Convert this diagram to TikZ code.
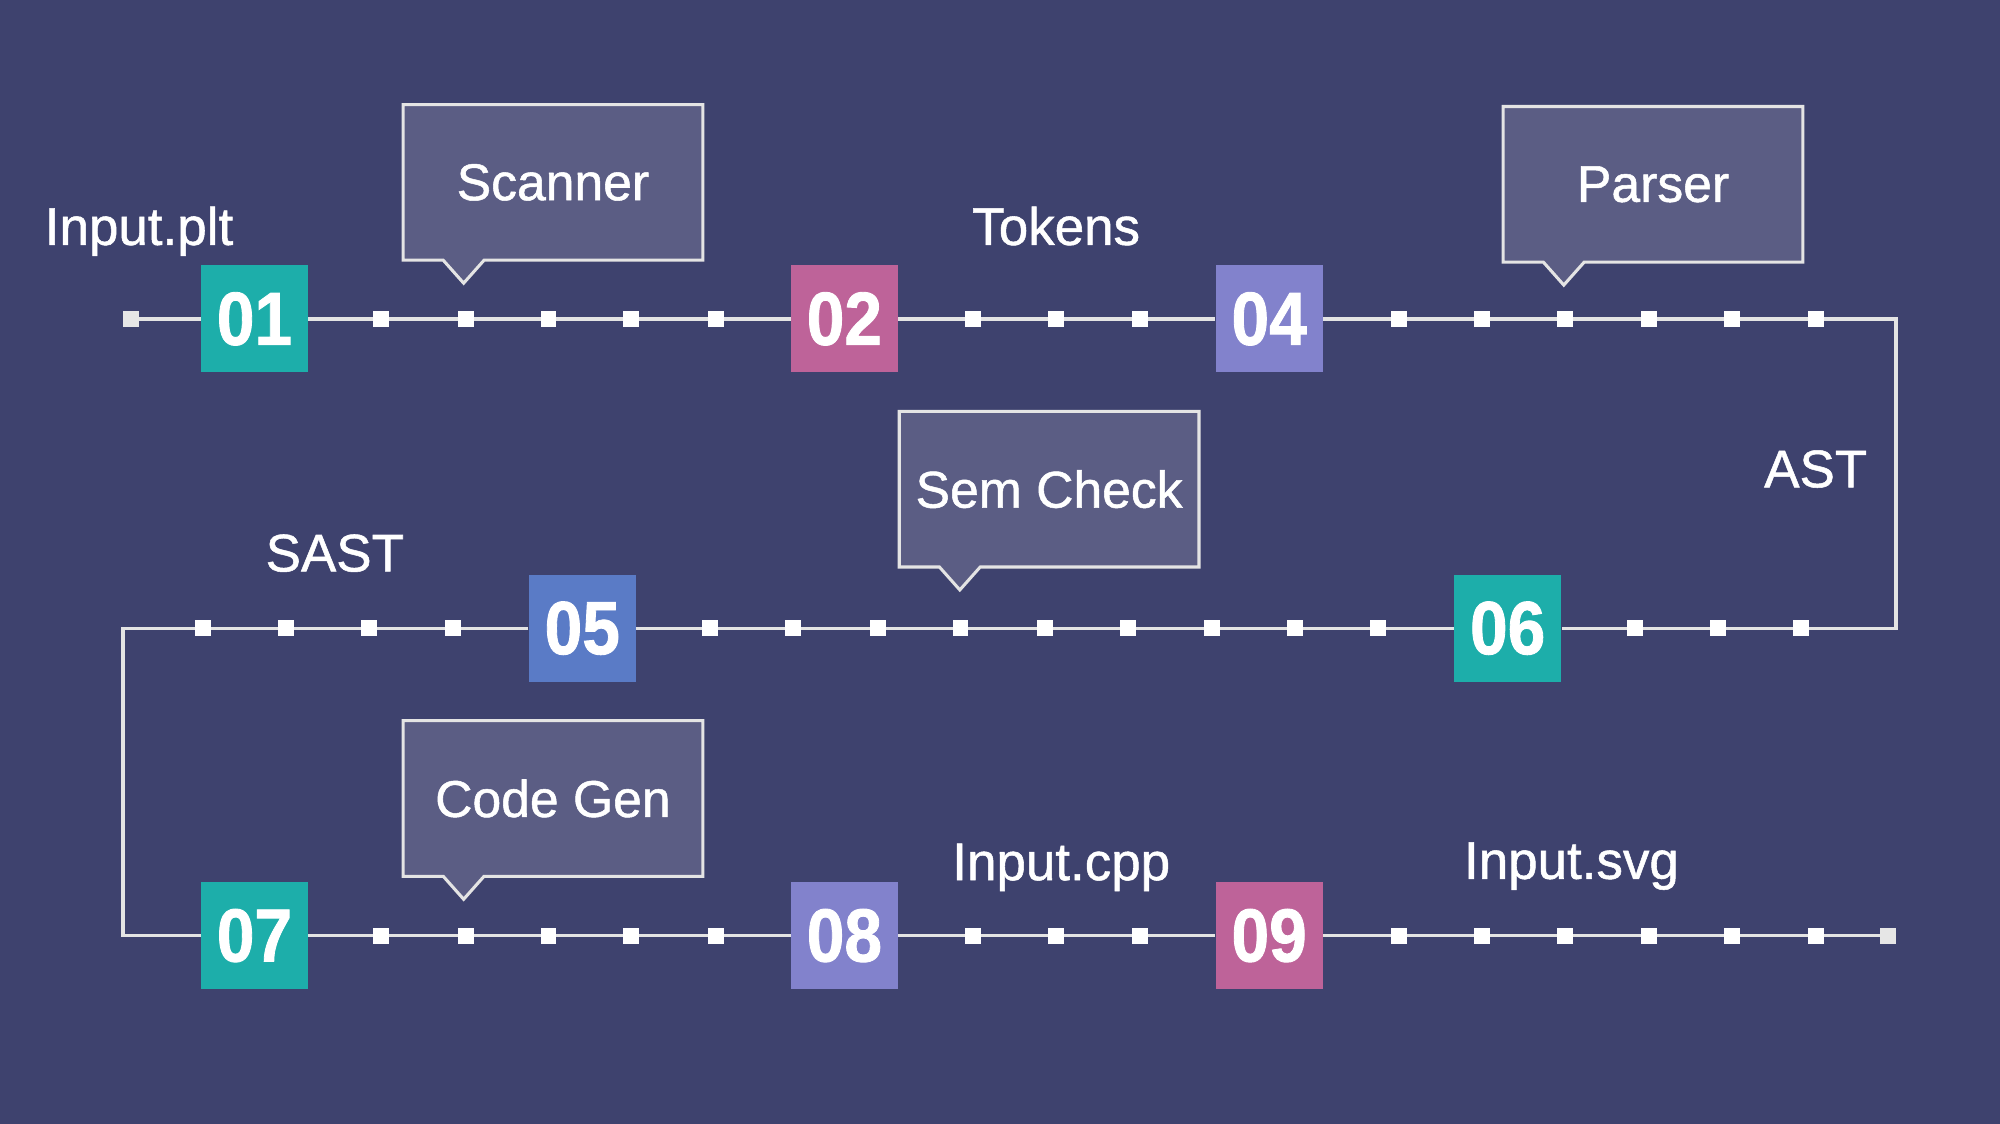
\documentclass[tikz,border=0pt]{standalone}
\usepackage{graphicx}
\usepackage{fontspec}
\setmainfont{Liberation Sans}
\newfontfamily\medfont{Liberation Sans}[FakeBold=1.0]
\newfontfamily\numfont{Liberation Sans Bold}[FakeBold=1.2]
\usetikzlibrary{backgrounds}
\definecolor{bg}{HTML}{3E426E}
\definecolor{cfill}{HTML}{5B5D84}
\definecolor{cedge}{HTML}{E4E4E4}
\definecolor{teal}{HTML}{1DAEAA}
\definecolor{magen}{HTML}{BE6399}
\definecolor{laven}{HTML}{8282CC}
\definecolor{bluebx}{HTML}{5A7BC6}
\definecolor{endsq}{HTML}{E6E6E6}
\newcommand\nb[1]{\scalebox{0.9}[1]{#1}}
\tikzset{
  numbox/.style={rectangle, minimum width=84pt, minimum height=84pt, inner sep=0pt,
    text=white, font=\numfont\fontsize{59}{60}\selectfont},
  dotsq/.style={rectangle, fill=white, minimum width=12.5pt, minimum height=12.5pt, inner sep=0pt},
  endsqr/.style={rectangle, fill=endsq, minimum width=12.5pt, minimum height=12.5pt, inner sep=0pt},
  wire/.style={draw=cedge, line width=2.6pt},
  cbox/.style={rectangle, fill=cfill, minimum width=235pt, minimum height=122pt, inner sep=0pt,
    text=white, font=\medfont\fontsize{40.5}{48}\selectfont},
  cline/.style={draw=cedge, line width=2.4pt, line join=miter},
  lbl/.style={anchor=base, text=white, font=\medfont\fontsize{41.5}{48}\selectfont, inner sep=0pt}
}
\newcommand\callout[4]{%
  \node[cbox] (#1) at (#2,#3) {#4};
  \begin{scope}[shift={(#2,#3)}]
    \fill[cfill] (-86,59) -- (-70,79) -- (-54,59) -- cycle;
    \draw[cline] (-117.5,61) -- (-117.5,-61) -- (117.5,-61) -- (117.5,61)
      -- (-54,61) -- (-70,79) -- (-86,61) -- cycle;
  \end{scope}}
\begin{document}
\begin{tikzpicture}[x=1pt,y=-1pt]
\useasboundingbox (0,0) rectangle (1568,881);
% row 1
\node[endsqr] (s0) at (103,250) {};
\node[numbox, fill=teal] (b01) at (199.5,250) {\nb{01}};
\node[numbox, fill=magen] (b02) at (662,250) {\nb{02}};
\node[numbox, fill=laven] (b04) at (995,250) {\nb{04}};
\coordinate (c1) at (1486.5,250);
\coordinate (c2) at (1486.5,492.5);
% row 2
\node[numbox, fill=bluebx] (b05) at (456.5,492.5) {\nb{05}};
\node[numbox, fill=teal] (b06) at (1182,492.5) {\nb{06}};
\coordinate (c3) at (96.4,492.5);
\coordinate (c4) at (96.4,733.5);
% row 3
\node[numbox, fill=teal] (b07) at (199.5,733.5) {\nb{07}};
\node[numbox, fill=laven] (b08) at (662,733.5) {\nb{08}};
\node[numbox, fill=magen] (b09) at (995,733.5) {\nb{09}};
\node[endsqr] (e0) at (1480,733.5) {};
% markers
\foreach \x [count=\i] in {299,365,430,495,561,763,828,894,1097,1162,1227,1293,1358,1424}
  \node[dotsq] (ra\i) at (\x,250) {};
\foreach \x [count=\i] in {159,224,289,355,557,622,688,753,819,884,950,1015,1080,1282,1347,1412}
  \node[dotsq] (rb\i) at (\x,492.5) {};
\foreach \x [count=\i] in {299,365,430,495,561,763,828,894,1097,1162,1227,1293,1358,1424}
  \node[dotsq] (rc\i) at (\x,733.5) {};
% wires
\begin{pgfonlayer}{background}
  \fill[bg] (0,0) rectangle (1568,881);
  \draw[wire] (s0.center) -- (b01);
  \draw[wire] (b01) -- (b02);
  \draw[wire] (b02) -- (b04);
  \draw[wire] (b04) -- (c1) -- (c2) -- (b06);
  \draw[wire] (b06) -- (b05);
  \draw[wire] (b05) -- (c3) -- (c4) -- (b07);
  \draw[wire] (b07) -- (b08);
  \draw[wire] (b08) -- (b09);
  \draw[wire] (b09) -- (e0.center);
\end{pgfonlayer}
% callouts
\callout{scanner}{433.5}{143}{Scanner}
\callout{parser}{1296}{144.5}{Parser}
\callout{semcheck}{822.5}{383.5}{Sem Check}
\callout{codegen}{433.5}{626}{Code Gen}
% labels
\node[lbl] (linput) at (109,192) {Input.plt};
\node[lbl] (ltokens) at (828,192) {Tokens};
\node[lbl] (last) at (1423.5,382) {AST};
\node[lbl] (lsast) at (262.5,448) {SAST};
\node[lbl] (lcpp) at (832,690) {Input.cpp};
\node[lbl] (lsvg) at (1232,689) {Input.svg};
\end{tikzpicture}
\end{document}
